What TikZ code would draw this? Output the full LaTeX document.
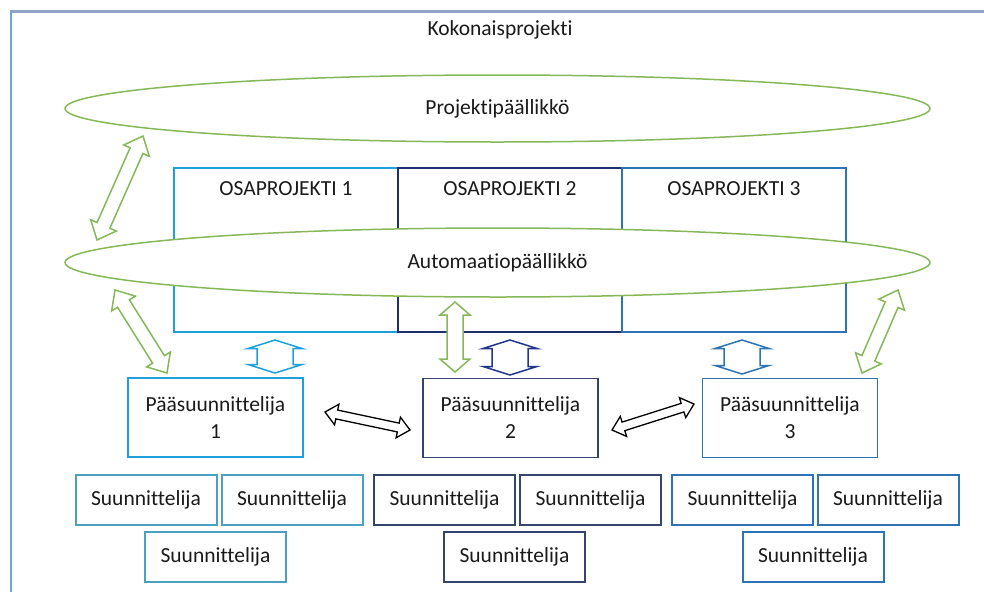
\documentclass[tikz,border=0pt]{standalone}
\usepackage{fontspec}
\setmainfont{Carlito}[Ligatures=NoCommon]
\usetikzlibrary{shapes.geometric,calc}

\definecolor{framebar}{HTML}{8EA4C2}
\definecolor{frameside}{HTML}{6AA8DC}
\definecolor{leafgreen}{HTML}{86B85A}
\definecolor{skyblue}{HTML}{1EA0DC}
\definecolor{tealblue}{HTML}{4AA0C0}
\definecolor{navyline}{HTML}{1F2F6E}
\definecolor{navybox}{HTML}{34436F}
\definecolor{navyarrow}{HTML}{22368A}
\definecolor{midblue}{HTML}{2E74B5}
\definecolor{inktext}{HTML}{1A1A1A}

% Outlined double-headed block arrow between two points:
% #1 style, #2 start, #3 end, #4 head length, #5 head half width, #6 shaft half width
\newcommand\blockdbl[6]{%
  \draw[#1] (#2)
    -- ($(#2)!#4!(#3)!#5!90:(#3)$) -- ($(#2)!#4!(#3)!#6!90:(#3)$)
    -- ($(#3)!#4!(#2)!#6!-90:(#2)$) -- ($(#3)!#4!(#2)!#5!-90:(#2)$)
    -- (#3)
    -- ($(#3)!#4!(#2)!#5!90:(#2)$) -- ($(#3)!#4!(#2)!#6!90:(#2)$)
    -- ($(#2)!#4!(#3)!#6!-90:(#3)$) -- ($(#2)!#4!(#3)!#5!-90:(#3)$)
    -- cycle;}

\tikzset{
  txt/.style={font=\fontsize{21.5}{27}\selectfont, text=inktext},
  role/.style={ellipse, draw=leafgreen, line width=1.5pt, fill=white,
    minimum width=865pt, minimum height=67pt, inner sep=0pt, txt},
  subproj/.style={rectangle, draw=#1, line width=1.5pt,
    minimum width=224pt, minimum height=164pt, inner sep=0pt},
  leadbox/.style={rectangle, draw=#1, line width=1.8pt, fill=white,
    minimum width=175pt, minimum height=79pt, inner sep=0pt, align=center, txt},
  designer/.style={rectangle, draw=#1, line width=2pt, fill=white,
    minimum width=141pt, minimum height=50pt, inner sep=0pt, txt},
  greenarrow/.style={draw=leafgreen, line width=1.5pt, fill=white, line join=miter},
  blackarrow/.style={draw=black, line width=1.3pt, fill=white, line join=miter},
  ibeam/.style={draw=#1, line width=1.5pt, fill=white, line join=miter},
}

\begin{document}
\begin{tikzpicture}[x=1pt, y=-1pt]
  \useasboundingbox (0,0) rectangle (984,592);

  % outer frame (only its top and left edges fall on the page)
  \draw[framebar, line width=3pt] (9.5,11) -- (984,11);
  \draw[frameside, line width=2.5pt] (11,11) -- (11,592);

  \node[txt] (whole) at (500,30) {Kokonaisprojekti};

  % project manager
  \node[role] (pm) at (497.5,108.5) {Projektipäällikkö};

  % sub-project columns
  \node[subproj=skyblue]  (osa1) at (286,250) {};
  \node[subproj=navyline] (osa2) at (510,250) {};
  \node[subproj=midblue]  (osa3) at (734,250) {};
  \node[txt] (osa1t) at (286,189) {OSAPROJEKTI 1};
  \node[txt] (osa2t) at (510,189) {OSAPROJEKTI 2};
  \node[txt] (osa3t) at (734,189) {OSAPROJEKTI 3};

  % automation manager band across the columns
  \node[role, minimum height=69pt] (am) at (497.5,262.5) {Automaatiopäällikkö};

  % lead designers
  \node[leadbox=skyblue]  (ps1) at (215.5,417.5) {Pääsuunnittelija\\1};
  \node[leadbox=navybox]  (ps2) at (510.5,418)   {Pääsuunnittelija\\2};
  \node[leadbox=midblue]  (ps3) at (790,418)     {Pääsuunnittelija\\3};

  % designers
  \node[designer=tealblue] (s1a) at (146,500)   {Suunnittelija};
  \node[designer=tealblue] (s1b) at (292,500)   {Suunnittelija};
  \node[designer=tealblue] (s1c) at (215.5,557) {Suunnittelija};
  \node[designer=navybox]  (s2a) at (444.5,500) {Suunnittelija};
  \node[designer=navybox]  (s2b) at (590.5,500) {Suunnittelija};
  \node[designer=navybox]  (s2c) at (514.5,557) {Suunnittelija};
  \node[designer=midblue]  (s3a) at (742.5,500) {Suunnittelija};
  \node[designer=midblue]  (s3b) at (888,500)   {Suunnittelija};
  \node[designer=midblue]  (s3c) at (813,557)   {Suunnittelija};

  % arrow end points
  \coordinate (pmL)  at (143,136);
  \coordinate (amTL) at (97,240);
  \coordinate (amBL) at (115,290);
  \coordinate (ps1T) at (167,373);
  \coordinate (amB)  at (455,302);
  \coordinate (ps2T) at (455,372);
  \coordinate (amBR) at (898,290);
  \coordinate (ps3T) at (862,373);
  \coordinate (ps1R) at (325,412);
  \coordinate (ps2L) at (410,430);
  \coordinate (ps2R) at (612,430);
  \coordinate (ps3L) at (694,404);
  \coordinate (osa1B) at (275,340);
  \coordinate (ps1C)  at (275,373);
  \coordinate (osa2B) at (510,340);
  \coordinate (ps2C)  at (510,375);
  \coordinate (osa3B) at (742,340);
  \coordinate (ps3C)  at (742,374);

  % green links to the managers
  \blockdbl{greenarrow}{pmL}{amTL}{16pt}{14pt}{7pt}
  \blockdbl{greenarrow}{amBL}{ps1T}{16pt}{14pt}{7pt}
  \blockdbl{greenarrow}{amB}{ps2T}{13pt}{15pt}{8pt}
  \blockdbl{greenarrow}{amBR}{ps3T}{16pt}{14pt}{7pt}

  % links between lead designers
  \blockdbl{blackarrow}{ps1R}{ps2L}{12pt}{10.5pt}{4.5pt}
  \blockdbl{blackarrow}{ps2R}{ps3L}{12pt}{10.5pt}{4.5pt}

  % short links from each column to its lead designer
  \blockdbl{ibeam=skyblue}{osa1B}{ps1C}{8.5pt}{27pt}{18pt}
  \blockdbl{ibeam=navyarrow}{osa2B}{ps2C}{8.5pt}{27pt}{18pt}
  \blockdbl{ibeam=midblue}{osa3B}{ps3C}{8.5pt}{27pt}{18pt}
\end{tikzpicture}
\end{document}
